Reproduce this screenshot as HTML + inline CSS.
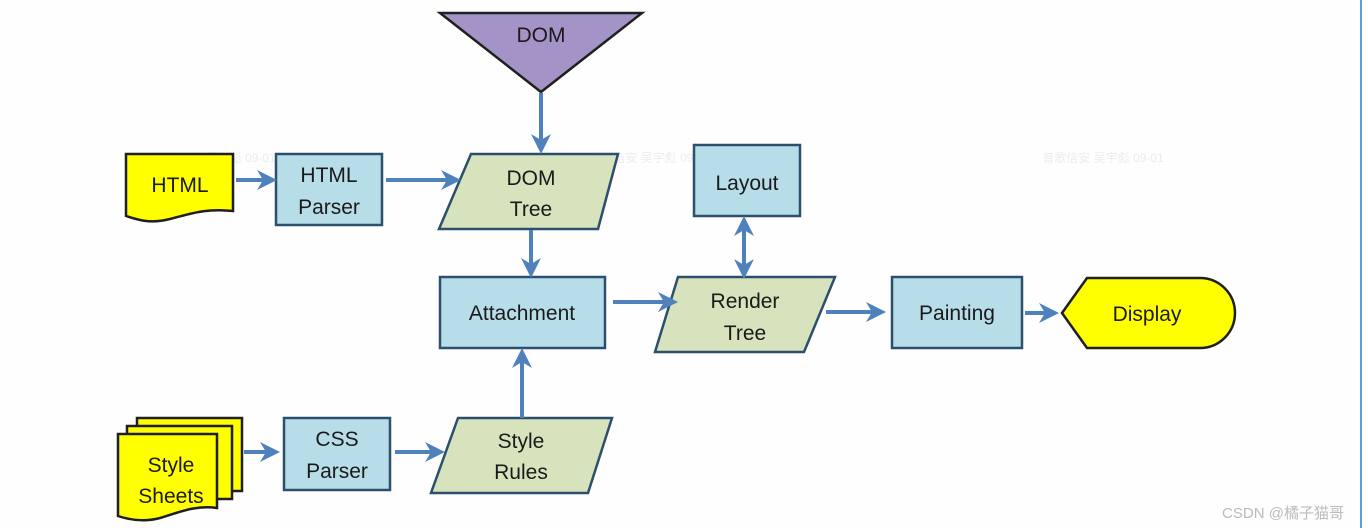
<!DOCTYPE html>
<html><head><meta charset="utf-8"><style>
html,body{margin:0;padding:0;background:#fff;}
svg{display:block}
text{font-family:"Liberation Sans","Noto Sans CJK SC",sans-serif;font-size:21px;fill:#1a1a1a;text-anchor:middle;}
.w{font-size:12px;fill:#ececec;}
</style></head><body>
<svg width="1368" height="528" viewBox="0 0 1368 528" xmlns="http://www.w3.org/2000/svg">
<defs>
<marker id="a" viewBox="0 0 10 10" refX="8" refY="5" markerWidth="5" markerHeight="5" orient="auto-start-reverse">
<path d="M0,0 L10,5 L0,10 L3,5 z" fill="#4f81bd"/></marker>
</defs>
<rect width="1368" height="528" fill="#fefefe"/>
<line x1="1361" y1="0" x2="1361" y2="528" stroke="#5aa0e0" stroke-width="2"/>
<text class="w" x="215" y="162">普歌信安 吴宇彪 09-01</text>
<text class="w" x="650" y="162">普歌信安 吴宇彪 09-01</text>
<text class="w" x="1103" y="162">普歌信安 吴宇彪 09-01</text>
<g stroke="#1f1f1f" stroke-width="2.5">
<polygon points="440,13 642,13 541,92" fill="#a393c6"/>
<path d="M126,154 H233 V211 C205,208 190,214 170,219 C150,224 138,220 126,216 Z" fill="#ffff00"/>
<path d="M137,418 H242 V491 H137 Z" fill="#ffff00"/>
<path d="M127,426 H232 V499 H127 Z" fill="#ffff00"/>
<path d="M118,434 H217 V508 C195,505 180,512 160,518 C145,522 130,520 118,516 Z" fill="#ffff00"/>
<path d="M1062,313 L1087,278 H1200 A35,35 0 0 1 1200,348 H1087 Z" fill="#ffff00"/>
</g>
<g stroke="#2d4f6e" stroke-width="2.5" fill="#b7dde8">
<rect x="276" y="154" width="106" height="71"/>
<rect x="440" y="277" width="165" height="71"/>
<rect x="694" y="145" width="106" height="71"/>
<rect x="892" y="277" width="130" height="71"/>
<rect x="284" y="418" width="106" height="72"/>
</g>
<g stroke="#2d4f6e" stroke-width="2.5" fill="#d6e3bc">
<polygon points="471,154 618,154 598,229 439,229"/>
<polygon points="678,277 835,277 804,352 655,352"/>
<polygon points="458,418 612,418 588,493 431,493"/>
</g>
<g stroke="#4f81bd" stroke-width="4" fill="none">
<line x1="541" y1="93" x2="541" y2="150" marker-end="url(#a)"/>
<line x1="236" y1="180" x2="273" y2="180" marker-end="url(#a)"/>
<line x1="386" y1="180" x2="457" y2="180" marker-end="url(#a)"/>
<line x1="531" y1="230" x2="531" y2="274" marker-end="url(#a)"/>
<line x1="613" y1="302" x2="674" y2="302" marker-end="url(#a)"/>
<line x1="744" y1="220" x2="744" y2="275" marker-start="url(#a)" marker-end="url(#a)"/>
<line x1="826" y1="312" x2="882" y2="312" marker-end="url(#a)"/>
<line x1="1025" y1="313" x2="1055" y2="313" marker-end="url(#a)"/>
<line x1="522" y1="418" x2="522" y2="352" marker-end="url(#a)"/>
<line x1="244" y1="452" x2="276" y2="452" marker-end="url(#a)"/>
<line x1="395" y1="452" x2="441" y2="452" marker-end="url(#a)"/>
</g>
<text x="531" y="185">DOM</text><text x="531" y="216">Tree</text>
<text x="541" y="42">DOM</text>
<text x="180" y="192">HTML</text>
<text x="329" y="182">HTML</text><text x="329" y="214">Parser</text>
<text x="522" y="320">Attachment</text>
<text x="747" y="190">Layout</text>
<text x="745" y="308">Render</text><text x="745" y="340">Tree</text>
<text x="957" y="320">Painting</text>
<text x="1147" y="321">Display</text>
<text x="171" y="472">Style</text><text x="171" y="503">Sheets</text>
<text x="337" y="446">CSS</text><text x="337" y="478">Parser</text>
<text x="521" y="448">Style</text><text x="521" y="479">Rules</text>
<text x="1283" y="518" style="font-size:15px;fill:#bbb">CSDN @橘子猫哥</text>
</svg>
</body></html>
